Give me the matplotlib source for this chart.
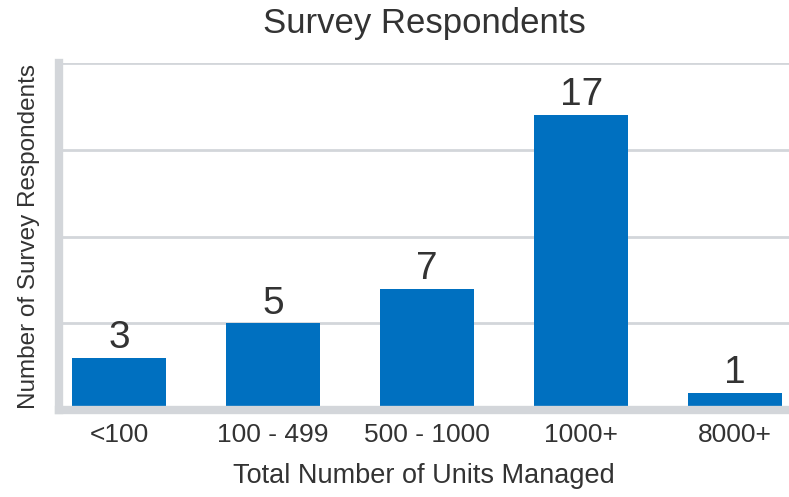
import matplotlib.pyplot as plt

# chart data
categories = ['<100', '100 - 499', '500 - 1000', '1000+', '8000+']
respondents = [3, 5, 7, 17, 1]
y_ticks = [0, 5, 10, 15, 20]

BLUE = '#0070C0'
GRID = '#D3D6DA'
TEXT = '#333333'

plt.rcParams['font.family'] = ['Liberation Sans', 'DejaVu Sans']

fig = plt.figure(figsize=(7.89, 4.97), dpi=100)
ax = fig.add_axes([0.075, 0.175, 0.925, 0.698])

x = range(len(categories))
bars = ax.bar(x, respondents, width=0.61, color=BLUE, zorder=3)

# value labels above the bars
for b, v in zip(bars, respondents):
    ax.text(b.get_x() + b.get_width() / 2, v + 0.1, str(v),
            ha='center', va='bottom', fontsize=28, color=TEXT)

ax.set_xlim(-0.39, 4.35)
ax.set_ylim(0, 20)
ax.set_yticks(y_ticks)
ax.yaxis.grid(True, color=GRID, linewidth=2, zorder=0)
ax.tick_params(axis='y', left=False, labelleft=False)
ax.tick_params(axis='x', length=0, pad=9, labelsize=19, labelcolor=TEXT)
ax.set_xticks(list(x))
ax.set_xticklabels(categories)

for s in ['top', 'right']:
    ax.spines[s].set_visible(False)
for s in ['left', 'bottom']:
    ax.spines[s].set_color(GRID)
    ax.spines[s].set_linewidth(6)
    ax.spines[s].set_zorder(4)

ax.set_title('Survey Respondents', fontsize=25, color=TEXT, pad=22)
ax.set_xlabel('Total Number of Units Managed', fontsize=19.5, color=TEXT, labelpad=12)
ax.set_ylabel('Number of Survey Respondents', fontsize=17.5, color=TEXT, labelpad=14)

fig.savefig('out.png', dpi=100)
